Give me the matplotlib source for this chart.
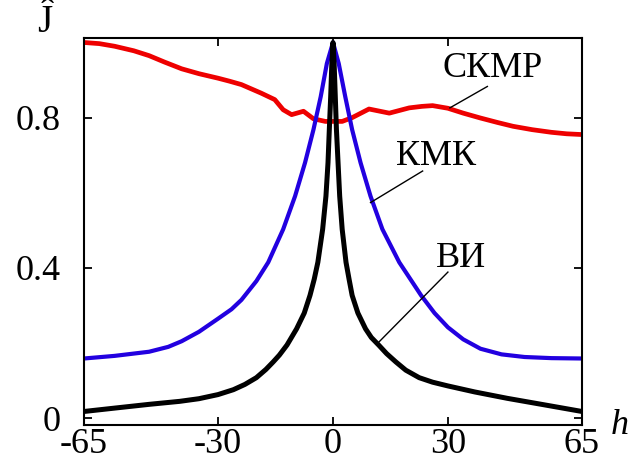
import matplotlib
matplotlib.use("Agg")
import matplotlib.pyplot as plt

plt.rcParams["font.family"] = ["Liberation Serif", "DejaVu Serif"]

# ВИ (black)
h_vi = [-65, -57, -48, -40, -35, -30, -26, -23, -20, -17.5, -15.6, -14, -12, -9.5, -7.5, -6.0, -4.9,
        -3.95, -2.7, -1.84, -1.3, -0.96, -0.6, -0.3, 0,
        0.3, 0.9, 1.75, 2.4, 3.4, 4.2, 5.0, 6.5, 8.5, 10, 12, 14, 16.4, 19, 22.5, 26, 30, 37, 45.5, 55, 65]
j_vi = [0.018, 0.027, 0.037, 0.045, 0.052, 0.063, 0.076, 0.09, 0.108, 0.13, 0.15, 0.168, 0.195, 0.238,
        0.28, 0.327, 0.37,
        0.415, 0.503, 0.591, 0.68, 0.768, 0.856, 0.944, 1.0,
        0.944, 0.768, 0.591, 0.503, 0.415, 0.37, 0.327, 0.28, 0.238, 0.215, 0.194, 0.172, 0.15, 0.128,
        0.108, 0.096, 0.086, 0.07, 0.053, 0.036, 0.018]

# КМК (blue)
h_kmk = [-65, -57, -48, -43, -39.5, -35, -30, -26.5, -23.9, -20, -16.9, -13, -9.9, -7.3,
         -5.1, -3.2, -1.6, 0,
         1.5, 3.2, 5.0, 7.2, 9.8, 12.9, 17.3, 23, 26.5, 30, 34, 38.5, 44, 50, 57, 65]
j_kmk = [0.159, 0.166, 0.177, 0.19, 0.205, 0.23, 0.265, 0.29, 0.315, 0.365, 0.415, 0.503, 0.591, 0.68,
         0.768, 0.856, 0.944, 1.0,
         0.944, 0.856, 0.768, 0.68, 0.591, 0.503, 0.415, 0.327, 0.28, 0.242, 0.21, 0.185, 0.17, 0.163, 0.16, 0.159]

# СКМР (red)
h_skmr = [-65, -61, -57, -52, -48, -44, -39.5, -35, -30, -27, -23.9, -18.7, -15.2, -13, -10.8,
          -7.7, -5.1, -2, 2.4, 5, 9.4, 14.7, 19.9, 23.2, 26, 30, 34, 38.5, 43, 47, 52, 57, 61, 65]
j_skmr = [1.0, 0.997, 0.99, 0.978, 0.965, 0.948, 0.93, 0.917, 0.905, 0.897, 0.888, 0.865, 0.848, 0.821, 0.808,
          0.817, 0.797, 0.79, 0.79, 0.80, 0.823, 0.812, 0.826, 0.83, 0.832, 0.825, 0.812, 0.799, 0.787, 0.777,
          0.768, 0.761, 0.757, 0.755]

x_ticks = [-65, -30, 0, 30, 65]
y_ticks = [0, 0.4, 0.8]
y_tick_labels = ["0", "0.4", "0.8"]

fig = plt.figure(figsize=(6.3, 4.65), dpi=100)
ax = fig.add_axes([0.1333, 0.0860, 0.7905, 0.8323])

ax.plot(h_skmr, j_skmr, color="#ee0000", lw=3.4, solid_joinstyle="round", solid_capstyle="round")
ax.plot(h_kmk, j_kmk, color="#2200e0", lw=3.0, solid_joinstyle="round", solid_capstyle="round")
ax.plot(h_vi, j_vi, color="black", lw=3.6, solid_joinstyle="round", solid_capstyle="round")

ax.set_xlim(-65, 65)
ax.set_ylim(-0.018, 1.012)
ax.set_xticks(x_ticks)
ax.set_xticklabels([str(t) for t in x_ticks])
ax.set_yticks(y_ticks)
ax.set_yticklabels(y_tick_labels)
ax.tick_params(direction="in", length=6, width=1.3, labelsize=26,
               top=True, right=True)
ax.tick_params(axis="y", pad=17)
ax.tick_params(axis="x", pad=2)
for s in ax.spines.values():
    s.set_linewidth(1.5)

# curve labels with leader lines
ax.text(41.8, 0.932, "СКМР", fontsize=26, ha="center", va="center")
ax.plot([40.3, 30.5], [0.883, 0.826], color="black", lw=1.0)
ax.text(26.8, 0.697, "КМК", fontsize=26, ha="center", va="center")
ax.plot([23.4, 9.8], [0.658, 0.574], color="black", lw=1.0)
ax.text(33.5, 0.424, "ВИ", fontsize=26, ha="center", va="center")
ax.plot([30, 12], [0.389, 0.203], color="black", lw=1.0)

fig.text(45 / 630, 1 - 22 / 465, "Ĵ", fontsize=28, ha="center", va="center")
fig.text(620 / 630, 1 - 425 / 465, "h", fontsize=26, style="italic",
         ha="center", va="center")

fig.savefig("out.png", dpi=100)
